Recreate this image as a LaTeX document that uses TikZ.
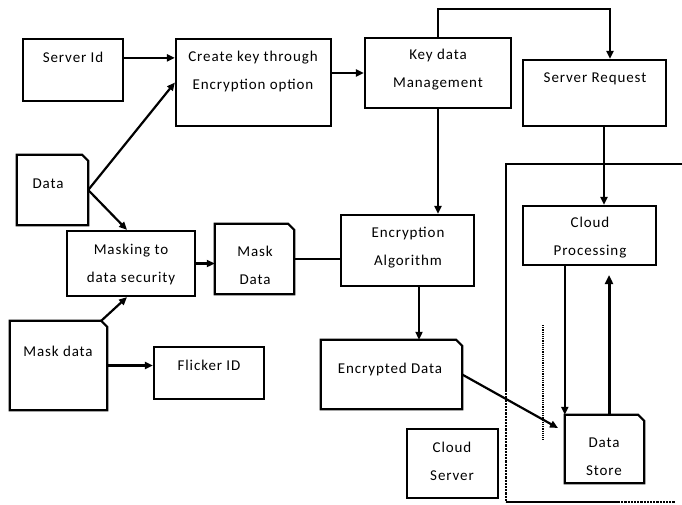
\documentclass[tikz,border=0pt]{standalone}
\usepackage{fontspec}
\setmainfont{Carlito}[LetterSpace=6]
\usetikzlibrary{arrows.meta,calc}
\tikzset{
  box/.style={draw, line width=2.2pt, inner sep=0pt},
  plain/.style={draw=none, inner sep=0pt},
  txt/.style={inner sep=0pt, font=\fontsize{15}{28}\selectfont, align=center},
  conn/.style={line width=2.2pt},
  arr/.style={conn, -{Triangle[length=8pt,width=7pt]}},
  doc/.style={line width=2.2pt, line join=miter}
}
\newcommand{\mkbox}[6]{% name, x1,y1,x2,y2, style
  \node[#6, minimum width={#4-#2}, minimum height={#5-#3}] (#1) at ({(#2+#4)/2},{(#3+#5)/2}) {};}
\newcommand{\docoutline}[1]{%
  \draw[doc] (#1.south west) -- (#1.north west) -- ([xshift=-6pt]#1.north east) -- ([yshift=-6pt]#1.north east) -- (#1.south east) -- cycle;}
\begin{document}
\begin{tikzpicture}[x=1pt,y=-1pt]
\useasboundingbox (0,0) rectangle (682,504);
\fill[white] (0,0) rectangle (682,504);
% boxes
\mkbox{sid}{23}{39}{123}{101}{box}
\mkbox{ck}{176}{39}{331}{126}{box}
\mkbox{kd}{365}{38}{511}{108}{box}
\mkbox{sr}{523}{60}{666}{126}{box}
\mkbox{cp}{523}{206}{656}{265}{box}
\mkbox{ds}{565}{415}{644}{483}{plain}
\mkbox{ea}{341}{215}{474}{286}{box}
\mkbox{ed}{321}{340}{462}{409}{plain}
\mkbox{cs}{407}{429}{498}{498}{box}
\mkbox{data}{17}{155}{88}{225}{plain}
\mkbox{mk}{67}{231}{195}{296}{box}
\mkbox{md}{215}{224}{294}{294}{plain}
\mkbox{mdata}{10}{321}{107}{410}{plain}
\mkbox{fl}{154}{347}{264}{399}{box}
\docoutline{ds}
\docoutline{ed}
\docoutline{data}
\docoutline{md}
\docoutline{mdata}
% texts
\node[txt] (sid-t) at (73,57) {Server Id};
\node[txt] (ck-t) at (253,71.5) {Create key through\\Encryption option};
\node[txt] (kd-t) at (438,70) {Key data\\Management};
\node[txt] (sr-t) at (595,79) {Server Request};
\node[txt] (cp-t) at (590,237.5) {Cloud\\Processing};
\node[txt] (ds-t) at (604,457) {Data\\Store};
\node[txt] (ea-t) at (408,248) {Encryption\\Algorithm};
\node[txt] (ed-t) at (390,369) {Encrypted Data};
\node[txt] (cs-t) at (452,461) {Cloud\\Server};
\node[txt] (data-t) at (48,184) {Data};
\node[txt] (mk-t) at (131,264) {Masking to\\data security};
\node[txt] (md-t) at (255,265) {Mask\\Data};
\node[txt] (mdata-t) at (58,351) {Mask data};
\node[txt] (fl-t) at (209,365) {Flicker ID};
% outer cloud server frame
\draw[line width=2.2pt] (682,164) -- (506,164) -- (506,390);
\draw[line width=2.2pt, densely dotted] (506,390) -- (506,502);
\draw[line width=2.2pt] (506,502) -- (618,502);
\draw[line width=2.2pt, densely dotted] (618,502) -- (675,502);
\draw[line width=1.2pt, densely dotted] (543,325) -- (543,440);
% coordinates
\coordinate (top) at (610,9);
\coordinate (srx) at (604,0);
\coordinate (edtip) at (558,428);
\coordinate (uptip) at (609,275);
% connectors
\draw[arr] ([yshift=-20pt]sid.north east) -- ([yshift=-20pt]ck.north west);
\draw[arr] (data.east) -- (ck.west);
\draw[arr] (data.east) -- ([xshift=-4pt]mk.north);
\draw[arr] (ck.east |- kd.west) -- (kd.west);
\draw[arr] (kd.north) |- (top) -- (top |- sr.north);
\draw[arr] (srx |- sr.south) -- (srx |- cp.north);
\draw[arr] (kd.south) -- (kd.south |- ea.north);
\draw[arr] ([xshift=11.5pt]ea.south) -- ([xshift=11.5pt]ea.south |- ed.north);
\draw[arr] (mk.east) -- (mk.east -| md.west);
\draw[conn] (md.east) -- (md.east -| ea.west);
\draw[arr] ([xshift=-6pt]mdata.north east) -- ([xshift=-4pt]mk.south);
\draw[arr] (mdata.east) -- (mdata.east -| fl.west);
\draw[arr] (ed.east) -- (edtip);
\draw[arr] (ds.north west |- cp.south) -- (ds.north west);
\draw[line width=3pt, -{Triangle[length=9pt,width=8pt]}] (uptip |- ds.north) -- (uptip);
\end{tikzpicture}
\end{document}
